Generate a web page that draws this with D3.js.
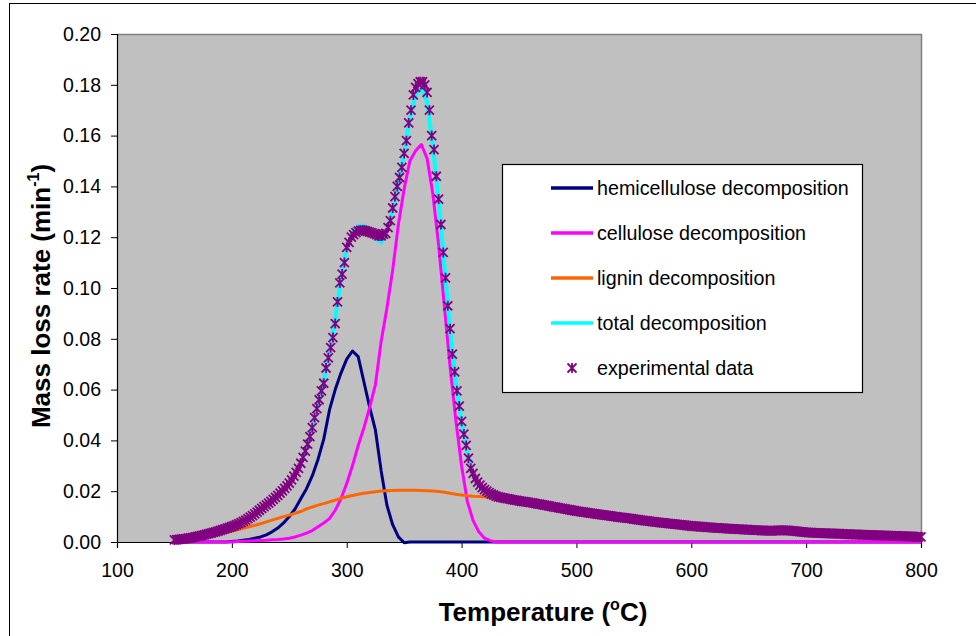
<!DOCTYPE html>
<html>
<head>
<meta charset="utf-8">
<script src="https://cdn.jsdelivr.net/npm/d3@7"></script>
<style>
  html, body { margin: 0; padding: 0; background: #fff; }
  svg { display: block; font-family: "Liberation Sans", Arial, sans-serif; }
</style>
</head>
<body>
<div id="chart"></div>
<script>
// model curves: 5 °C steps up to 445, then 10 °C steps
const MODEL_T = d3.range(150, 450, 5).concat(d3.range(450, 801, 10));

const HEMI = [
  0, 0, 0, 0, 0, 0, 0, 0, 0, 0,
  .0002, .0004, .0007, .0010, .0015, .0020, .0028, .0040, .0055, .0075,
  .0100, .0130, .0170, .0210, .0260, .0325, .0405, .0520, .0600, .0665,
  .0720, .0752, .0730, .0630, .0530, .0440, .0280, .0145, .0068, .0020,
  -.0003, 0, 0, 0, 0, 0, 0, 0, 0, 0,
  0, 0, 0, 0, 0, 0, 0, 0, 0, 0,
  0, 0, 0, 0, 0, 0, 0, 0, 0, 0, 0, 0, 0, 0, 0, 0, 0, 0,
  0, 0, 0, 0, 0, 0, 0, 0, 0, 0, 0, 0, 0, 0, 0, 0, 0, 0
];

const CELL = [
  0, 0, 0, 0, 0, 0, 0, 0, 0, 0,
  0, .0002, .0003, .0004, .0005, .0006, .0007, .0009, .0010, .0012,
  .0015, .0020, .0027, .0035, .0045, .0060, .0075, .0092, .0125, .0170,
  .0230, .0300, .0380, .0450, .0530, .0620, .0790, .0920, .1070, .1250,
  .1390, .1500, .1540, .1565, .1510, .1370, .1170, .0930, .0690, .0480,
  .0300, .0160, .0085, .0040, .0015, .0005, 0, 0, 0, 0,
  0, 0, 0, 0, 0, 0, 0, 0, 0, 0, 0, 0, 0, 0, 0, 0, 0, 0,
  0, 0, 0, 0, 0, 0, 0, 0, 0, 0, 0, 0, 0, 0, 0, 0, 0, 0
];

const LIGNIN = [
  .0008, .0010, .0012, .0015, .0018, .0021, .0025, .0029, .0033, .0038,
  .0043, .0048, .0054, .0060, .0066, .0072, .0079, .0086, .0093, .0100,
  .0106, .0113, .0120, .0130, .0138, .0145, .0151, .0158, .0165, .0172,
  .0178, .0183, .0188, .0192, .0195, .0198, .0201, .0202, .0203, .0204,
  .0204, .0204, .0204, .0203, .0202, .0201, .0199, .0196, .0192, .0188,
  .0185, .0182, .0180, .0179, .0178, .0175, .0172, .0170, .0167, .0165,
  .0162, .0155, .0147, .0138, .0130, .0122, .0115, .0109, .0102, .0096,
  .0090, .0084, .0078, .0073, .0068, .0063, .0060, .0056, .0053, .0051,
  .0048, .0046, .0044, .0043, .0041, .0038, .0036, .0034, .0032, .0030,
  .0029, .0027, .0025, .0024, .0022, .0020
];

const TOTAL = [
  .0010, .0012, .0014, .0018, .0022, .0027, .0033, .0039, .0046, .0053,
  .0061, .0070, .0081, .0095, .0111, .0128, .0146, .0164, .0184, .0206,
  .0232, .0266, .0310, .0370, .0450, .0545, .0630, .0750, .0880, .1035,
  .1160, .1215, .1245, .1245, .1225, .1195, .1180, .1225, .1305, .1420,
  .1530, .1670, .1760, .1790, .1730, .1560, .1350, .1090, .0840, .0630,
  .0475, .0350, .0265, .0222, .0196, .0182, .0174, .0170, .0167, .0165,
  .0162, .0155, .0147, .0138, .0130, .0122, .0115, .0109, .0102, .0096,
  .0090, .0084, .0078, .0073, .0068, .0063, .0060, .0056, .0053, .0051,
  .0048, .0046, .0044, .0043, .0041, .0038, .0036, .0034, .0032, .0030,
  .0029, .0027, .0025, .0024, .0022, .0020
];

// experimental points, one every 2 °C from 150 to 800
const EXP_T0 = 150, EXP_DT = 2;
const EXP = [
  .0008, .0009, .0010, .0011, .0012, .0013, .0015, .0016, .0018, .0020,
  .0022, .0024, .0026, .0028, .0031, .0033, .0035, .0038, .0040, .0043,
  .0046, .0049, .0052, .0055, .0058, .0061, .0064, .0068, .0072, .0076,
  .0081, .0086, .0092, .0098, .0104, .0111, .0118, .0125, .0132, .0139,
  .0146, .0153, .0160, .0168, .0176, .0184, .0192, .0201, .0211, .0221,
  .0232, .0245, .0259, .0274, .0290, .0310, .0333, .0358, .0385, .0415,
  .0450, .0490, .0525, .0560, .0595, .0625, .0685, .0725, .0765, .0805,
  .0860, .0945, .1020, .1055, .1100, .1160, .1180, .1200, .1210, .1218,
  .1224, .1227, .1228, .1226, .1223, .1220, .1217, .1214, .1210, .1205,
  .1205, .1212, .1215, .1238, .1265, .1315, .1360, .1400, .1435, .1475,
  .1530, .1580, .1650, .1700, .1760, .1790, .1805, .1812, .1812, .1800,
  .1770, .1700, .1600, .1545, .1440, .1350, .1250, .1140, .1040, .0930,
  .0840, .0740, .0670, .0595, .0535, .0475, .0425, .0380, .0330, .0290,
  .0270, .0250, .0236, .0224, .0214, .0206, .0200, .0194, .0189, .0185,
  .0181, .0178, .0176, .0174, .0172, .0171, .0169, .0167, .0165, .0164,
  .0162, .0160, .0159, .0158, .0157, .0155, .0154, .0152, .0150, .0149,
  .0147, .0145, .0144, .0142, .0140, .0138, .0137, .0135, .0133, .0132,
  .0130, .0128, .0127, .0125, .0124, .0122, .0121, .0119, .0118, .0117,
  .0115, .0114, .0113, .0111, .0110, .0109, .0107, .0106, .0105, .0104,
  .0102, .0101, .0100, .0098, .0097, .0096, .0095, .0094, .0093, .0092,
  .0090, .0089, .0088, .0086, .0085, .0084, .0083, .0082, .0080, .0079,
  .0078, .0077, .0076, .0075, .0074, .0073, .0072, .0071, .0070, .0069,
  .0068, .0067, .0066, .0065, .0064, .0063, .0062, .0062, .0061, .0060,
  .0060, .0059, .0058, .0058, .0057, .0056, .0056, .0055, .0055, .0054,
  .0053, .0053, .0052, .0052, .0051, .0051, .0050, .0050, .0049, .0049,
  .0048, .0048, .0047, .0047, .0046, .0046, .0045, .0045, .0045, .0044,
  .0044, .0045, .0045, .0046, .0046, .0046, .0046, .0045, .0045, .0044,
  .0043, .0042, .0041, .0040, .0039, .0038, .0037, .0037, .0036, .0036,
  .0035, .0035, .0035, .0034, .0034, .0034, .0033, .0033, .0033, .0032,
  .0032, .0032, .0031, .0031, .0031, .0030, .0030, .0030, .0029, .0029,
  .0029, .0028, .0028, .0028, .0027, .0027, .0027, .0026, .0026, .0026,
  .0025, .0025, .0025, .0024, .0024, .0024, .0023, .0023, .0023, .0022,
  .0022, .0022, .0021, .0021, .0020, .0020
];

const X_TICKS = [100, 200, 300, 400, 500, 600, 700, 800];
const Y_TICKS = [0, 0.02, 0.04, 0.06, 0.08, 0.10, 0.12, 0.14, 0.16, 0.18, 0.20];

const SERIES = [
  { name: "hemicellulose decomposition", values: HEMI,   color: "#000080", width: 3 },
  { name: "cellulose decomposition",     values: CELL,   color: "#ff00ff", width: 3 },
  { name: "lignin decomposition",        values: LIGNIN, color: "#ff6600", width: 3 },
  { name: "total decomposition",         values: TOTAL,  color: "#00ffff", width: 4 },
];
const EXP_NAME = "experimental data";
const EXP_COLOR = "#800080";

const W = 976, H = 636;
const plot = { left: 117, right: 921, top: 34, bottom: 542 };

const svg = d3.select("#chart").append("svg").attr("width", W).attr("height", H);

// chart border (runs off the right and bottom edges, like the source)
svg.append("rect").attr("x", 9.5).attr("y", 3.5).attr("width", W + 10).attr("height", H + 10)
  .attr("fill", "#fff").attr("stroke", "#000").attr("stroke-width", 1);

const x = d3.scaleLinear().domain([100, 800]).range([plot.left, plot.right]);
const y = d3.scaleLinear().domain([0, 0.2]).range([plot.bottom, plot.top]);

// plot area
svg.append("rect").attr("x", plot.left).attr("y", plot.top)
  .attr("width", plot.right - plot.left).attr("height", plot.bottom - plot.top)
  .attr("fill", "#c0c0c0");
svg.append("path")
  .attr("d", `M${plot.left},${plot.top + 0.5}H${plot.right + 0.5}V${plot.bottom}`)
  .attr("fill", "none").attr("stroke", "#808080").attr("stroke-width", 1.5);

// axes
const yAxis = svg.append("g").attr("transform", `translate(${plot.left},0)`)
  .call(d3.axisLeft(y).tickValues(Y_TICKS).tickFormat(d3.format(".2f")).tickSizeOuter(0).tickSize(6).tickPadding(10));
const xAxis = svg.append("g").attr("transform", `translate(0,${plot.bottom})`)
  .call(d3.axisBottom(x).tickValues(X_TICKS).tickFormat(d3.format("d")).tickSizeOuter(0).tickSize(6).tickPadding(15));
[yAxis, xAxis].forEach(a => {
  a.select(".domain").attr("stroke", "#000").attr("stroke-width", 1.2);
  a.selectAll(".tick line").attr("stroke", "#000");
  a.selectAll(".tick text").style("font-size", "19.5px").attr("fill", "#000")
    .style("font-family", "'Liberation Sans', Arial, sans-serif");
});

// model lines
const line = d3.line().x((d, i) => x(MODEL_T[i])).y(d => y(d));
svg.append("g").selectAll("path").data(SERIES).enter().append("path")
  .attr("d", s => line(s.values))
  .attr("fill", "none").attr("stroke", s => s.color).attr("stroke-width", s => s.width)
  .attr("stroke-linejoin", "round");

// experimental points as asterisks
const STAR = "M-4.5,-4.5L4.5,4.5M-4.5,4.5L4.5,-4.5M0,-5L0,5";
svg.append("g").selectAll("path").data(EXP).enter().append("path")
  .attr("transform", (d, i) => `translate(${x(EXP_T0 + i * EXP_DT)},${y(d)})`)
  .attr("d", STAR).attr("fill", "none").attr("stroke", EXP_COLOR).attr("stroke-width", 1.8);

// legend
const lg = svg.append("g");
lg.append("rect").attr("x", 502.5).attr("y", 164.5).attr("width", 360).attr("height", 228)
  .attr("fill", "#fff").attr("stroke", "#000").attr("stroke-width", 1.2);
const rows = SERIES.map(s => ({ name: s.name, color: s.color, line: true }))
  .concat([{ name: EXP_NAME, color: EXP_COLOR, line: false }]);
rows.forEach((r, i) => {
  const cy = 188 + i * 45;
  if (r.line) {
    lg.append("line").attr("x1", 551).attr("x2", 593).attr("y1", cy).attr("y2", cy)
      .attr("stroke", r.color).attr("stroke-width", 3.5);
  } else {
    lg.append("path").attr("transform", `translate(572,${cy})`).attr("d", STAR)
      .attr("fill", "none").attr("stroke", r.color).attr("stroke-width", 1.8);
  }
  lg.append("text").attr("x", 597).attr("y", cy).attr("dy", "0.35em")
    .style("font-size", "19.7px").attr("fill", "#000").text(r.name);
});

// axis titles
const xt = svg.append("text").attr("x", 543).attr("y", 621).attr("text-anchor", "middle")
  .style("font-size", "26px").style("font-weight", "bold");
xt.append("tspan").text("Temperature (");
xt.append("tspan").attr("dy", -11).style("font-size", "16px").text("o");
xt.append("tspan").attr("dy", 11).text("C)");

const yt = svg.append("text").attr("transform", "translate(50,296) rotate(-90)")
  .attr("text-anchor", "middle").style("font-size", "26px").style("font-weight", "bold");
yt.append("tspan").text("Mass loss rate (min");
yt.append("tspan").attr("dy", -11).style("font-size", "16px").text("-1");
yt.append("tspan").attr("dy", 11).text(")");
</script>
</body>
</html>
